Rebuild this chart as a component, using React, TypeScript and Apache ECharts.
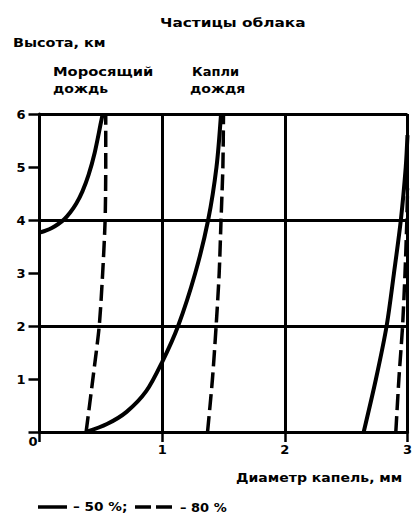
import React, { useEffect, useRef } from "react";
import * as echarts from "echarts";

// Drizzle (Моросящий дождь)
const drizzle50: [number, number][] = [
  [0, 3.76], [0.05, 3.8], [0.1, 3.85], [0.15, 3.92], [0.2, 4.01], [0.25, 4.14], [0.3, 4.31],
  [0.35, 4.54], [0.4, 4.85], [0.45, 5.27], [0.5, 5.83], [0.515, 6.0],
];
const drizzle80: [number, number][] = [
  [0.38, 0], [0.435, 1], [0.487, 2], [0.515, 3], [0.535, 4], [0.54, 5], [0.54, 6],
];
// Raindrops (Капли дождя)
const rain50: [number, number][] = [
  [0.38, 0], [0.55, 0.15], [0.71, 0.38], [0.87, 0.77], [1.0, 1.32], [1.13, 2.0],
  [1.27, 3.0], [1.375, 4.0], [1.443, 5.0], [1.48, 6.0],
];
const rain80: [number, number][] = [
  [1.37, 0], [1.41, 1], [1.44, 2], [1.465, 3], [1.48, 4], [1.495, 5], [1.5, 6],
];
// Cloud particles (Частицы облака), right edge
const cloud50: [number, number][] = [
  [2.643, 0], [2.743, 1], [2.83, 2], [2.89, 3], [2.946, 4], [2.986, 5], [3.0, 5.6],
];
const cloud80: [number, number][] = [
  [2.905, 0], [2.93, 1], [2.96, 2], [2.98, 3], [2.995, 4], [3.0, 4.6],
];

const xTicks = [0, 1, 2, 3];
const yTicks = [0, 1, 2, 3, 4, 5, 6];

const FONT = "DejaVu Sans";

export default function App() {
  const ref = useRef<HTMLDivElement>(null);
  useEffect(() => {
    if (!ref.current) return;
    const chart = echarts.init(ref.current, null, { renderer: "svg" });
    const solid = (name: string, data: [number, number][]) => ({
      name,
      type: "line",
      data,
      smooth: 0.3,
      showSymbol: false,
      lineStyle: { color: "#000", width: 4 },
      z: 5,
    });
    const dashed = (name: string, data: [number, number][]) => ({
      name,
      type: "line",
      data,
      smooth: 0.25,
      showSymbol: false,
      lineStyle: { color: "#000", width: 3.5, type: [16, 6] },
      z: 5,
    });
    const txt = (left: number, top: number, text: string, sx = 1.13, align = "left") => ({
      type: "text",
      x: left,
      y: top,
      scaleX: sx,
      style: {
        text,
        fill: "#000",
        font: `bold 13px "${FONT}"`,
        textAlign: align,
        textVerticalAlign: "middle",
      },
    });
    chart.setOption({
      animation: false,
      grid: { left: 39.5, right: 5, top: 114, bottom: 82 },
      xAxis: {
        type: "value",
        min: xTicks[0],
        max: xTicks[xTicks.length - 1],
        interval: 1,
        axisLine: { show: true, lineStyle: { color: "#000", width: 3 } },
        axisTick: { show: true, length: 10, lineStyle: { color: "#000", width: 2.5 } },
        axisLabel: {
          color: "#000",
          fontFamily: FONT,
          fontWeight: "bold",
          fontSize: 13,
          margin: 11,
          formatter: (v: number) => (v === 0 ? "" : String(v)),
        },
        splitLine: { show: true, lineStyle: { color: "#000", width: 3 } },
      },
      yAxis: [
        {
          type: "value",
          min: yTicks[0],
          max: yTicks[yTicks.length - 1],
          interval: 1,
          axisLine: { show: true, lineStyle: { color: "#000", width: 3 } },
          axisTick: { show: true, length: 11, lineStyle: { color: "#000", width: 2.5 } },
          axisLabel: {
            color: "#000",
            fontFamily: FONT,
            fontWeight: "bold",
            fontSize: 13,
            margin: 14,
            formatter: (v: number) => (v === 0 ? "" : String(v)),
          },
          splitLine: { show: false },
        },
        {
          type: "value",
          min: 0,
          max: 6,
          interval: 2,
          position: "left",
          axisLine: { show: false },
          axisTick: { show: false },
          axisLabel: { show: false },
          splitLine: { show: true, lineStyle: { color: "#000", width: 3 } },
        },
      ],
      series: [
        solid("Моросящий дождь – 50 %", drizzle50),
        dashed("Моросящий дождь – 80 %", drizzle80),
        solid("Капли дождя – 50 %", rain50),
        dashed("Капли дождя – 80 %", rain80),
        solid("Частицы облака – 50 %", cloud50),
        dashed("Частицы облака – 80 %", cloud80),
      ],
      graphic: [
        txt(160, 22, "Частицы облака", 1.18),
        txt(13, 42, "Высота, км", 1.11),
        txt(53, 71, "Моросящий", 1.13),
        txt(53, 88, "дождь", 1.08),
        txt(192, 71, "Капли", 1.0),
        txt(190, 88, "дождя", 1.08),
        txt(33, 441, "0", 1, "center"),
        txt(236, 477, "Диаметр капель, мм", 1.08),
        {
          type: "line",
          shape: { x1: 38, y1: 507, x2: 67, y2: 507 },
          style: { stroke: "#000", lineWidth: 3.5 },
        },
        txt(73, 507, "– 50 %;", 1.05),
        {
          type: "line",
          shape: { x1: 135, y1: 507, x2: 173, y2: 507 },
          style: { stroke: "#000", lineWidth: 3.5, lineDash: [16, 5] },
        },
        txt(180, 507, "– 80 %", 1.0),
      ],
    });
    return () => chart.dispose();
  }, []);
  return (
    <div
      ref={ref}
      style={{ position: "absolute", left: 0, top: 0, width: 415, height: 514, background: "#fff" }}
    />
  );
}
